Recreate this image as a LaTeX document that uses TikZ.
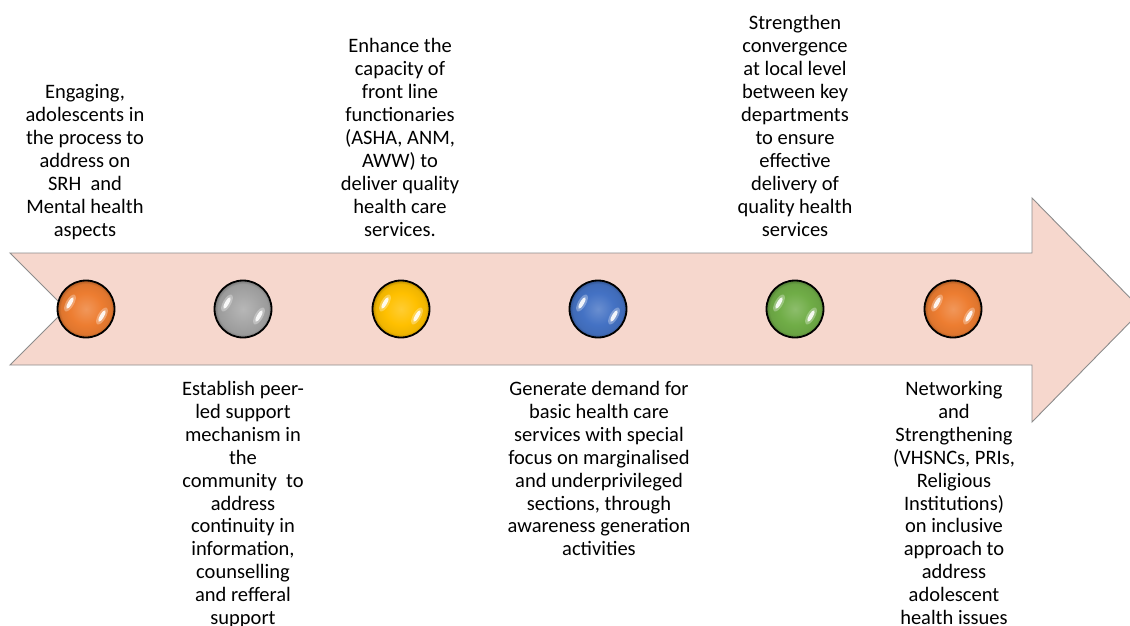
\documentclass[tikz,border=0pt]{standalone}
\usepackage{fontspec}
\setmainfont{Carlito}
\usetikzlibrary{calc}

% glossy marker: flat body with a darker rim
\colorlet{ballc}{orange}
\pgfdeclareradialshading[ballc]{glassball}{\pgfpoint{0bp}{0bp}}{%
  color(0bp)=(ballc!80!white);
  color(14bp)=(ballc);
  color(22bp)=(ballc!94!black);
  color(25bp)=(ballc!72!black);
  color(50bp)=(ballc!72!black)}

\definecolor{arrowfill}{RGB}{246,215,205}
\definecolor{arrowline}{RGB}{140,140,140}
\definecolor{cOrange}{RGB}{237,125,49}
\definecolor{cGray}{RGB}{165,165,165}
\definecolor{cYellow}{RGB}{255,192,0}
\definecolor{cBlue}{RGB}{68,114,196}
\definecolor{cGreen}{RGB}{112,173,71}

\tikzset{
  bigarrow/.style={fill=arrowfill, draw=arrowline, line width=0.9pt, line join=miter},
  marker/.style={circle, minimum size=57pt, inner sep=0pt,
    /utils/exec={\colorlet{ballc}{#1}}, shading=glassball,
    draw=black, line width=1.8pt,
    path picture={
      \coordinate (pc) at (path picture bounding box.center);
      \fill[white, opacity=0.3] ($(pc)+(-16,-6)$) ellipse [x radius=4, y radius=9.5, rotate=-30];
      \fill[white, opacity=0.3] ($(pc)+(16,7)$) ellipse [x radius=4, y radius=9.5, rotate=-30];
      \fill[white, opacity=0.9] ($(pc)+(-16,-6)$) ellipse [x radius=2, y radius=6.5, rotate=-30];
      \fill[white, opacity=0.9] ($(pc)+(16,7)$) ellipse [x radius=2, y radius=6.5, rotate=-30];
    }},
  % anchor base = baseline of the last line
  label text/.style={align=center, inner sep=0pt, anchor=base,
    font=\fontsize{20.5}{22.9}\selectfont}
}

\begin{document}
\begin{tikzpicture}[x=1pt, y=-1pt]
  \useasboundingbox (0,0) rectangle (1130,625);
  \clip (0,0) rectangle (1130,625);

  % timeline arrow with notched tail
  \coordinate (tailtop) at (10,253);
  \coordinate (notch) at (66,309);
  \coordinate (tailbot) at (10,365);
  \coordinate (tip) at (1142,310);
  \draw[bigarrow] (tailtop) -- (1032,253) -- (1032,198) -- (tip)
    -- (1032,422) -- (1032,365) -- (tailbot) -- (notch) -- cycle;

  % milestone markers
  \node[marker=cOrange] (m1) at (86,309) {};
  \node[marker=cGray]   (m2) at (243,309) {};
  \node[marker=cYellow] (m3) at (401,309) {};
  \node[marker=cBlue]   (m4) at (598,309) {};
  \node[marker=cGreen]  (m5) at (795,309) {};
  \node[marker=cOrange] (m6) at (953,309) {};

  % descriptions above the arrow
  \node[label text] (t1) at (85,236) {Engaging,\\adolescents in\\the process to\\address on\\SRH\ \ and\\Mental health\\aspects};
  \node[label text] (t3) at (400,236) {Enhance the\\capacity of\\front line\\functionaries\\(ASHA, ANM,\\AWW) to\\deliver quality\\health care\\services.};
  \node[label text] (t5) at (795,236) {Strengthen\\convergence\\at local level\\between key\\departments\\to ensure\\effective\\delivery of\\quality health\\services};

  % descriptions below the arrow
  \node[label text] (t2) at (243,624.5) {Establish peer-\\led support\\mechanism in\\the\\community\ \ to\\address\\continuity in\\information,\\counselling\\and refferal\\support};
  \node[label text] (t4) at (599,555.8) {Generate demand for\\basic health care\\services with special\\focus on marginalised\\and underprivileged\\sections, through\\awareness generation\\activities};
  \node[label text] (t6) at (954,624.5) {Networking\\and\\Strengthening\\(VHSNCs, PRIs,\\Religious\\Institutions)\\on inclusive\\approach to\\address\\adolescent\\health issues};
\end{tikzpicture}
\end{document}
